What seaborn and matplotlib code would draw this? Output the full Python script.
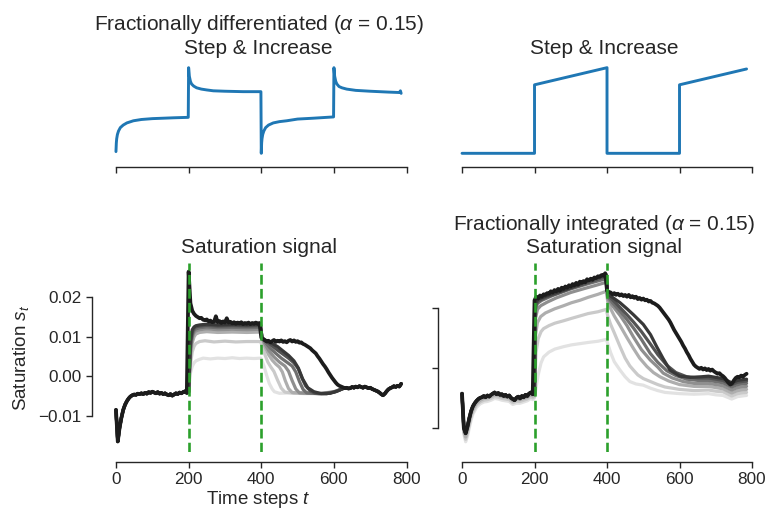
import numpy as np
import matplotlib
matplotlib.use("Agg")
import matplotlib.pyplot as plt
import seaborn as sns

# ------------------------------------------------------------------ data
TICKS_T = [0, 200, 400, 600, 800]
EVENT_T = [200, 400]
SAT_YTICKS = [-0.01, 0.00, 0.01, 0.02]
INT_YTICKS = [-0.01, 0.00, 0.01]

# Step & Increase input signal
STEP_T = [0, 200, 200, 400, 400, 600, 600, 785]
STEP_V = [0.0, 0.0, 0.8, 1.0, 0.0, 0.0, 0.8, 0.985]

# Fractionally differentiated input signal
FD_T = [0, 1, 2, 4, 7, 12, 20, 30, 48, 70, 100, 130, 160, 199,
        200, 202, 205, 208, 214, 222, 235, 250, 268, 300, 350, 399,
        400, 401, 402, 404, 407, 412, 420, 433, 450, 470, 500, 543, 599,
        600, 602, 605, 608, 614, 622, 635, 660, 700, 750, 780, 783, 785]
FD_V = [0.02, 0.12, 0.17, 0.22, 0.26, 0.30, 0.33, 0.355, 0.38, 0.395, 0.405, 0.41, 0.415, 0.42,
        1.00, 0.90, 0.84, 0.81, 0.785, 0.765, 0.75, 0.74, 0.73, 0.725, 0.72, 0.72,
        0.00, 0.12, 0.17, 0.22, 0.26, 0.30, 0.33, 0.355, 0.37, 0.38, 0.40, 0.41, 0.425,
        1.00, 0.90, 0.84, 0.81, 0.78, 0.765, 0.75, 0.735, 0.725, 0.715, 0.71, 0.73, 0.70]

# Saturation signal, last (black) layer, one value every 5 time steps
SAT_BLACK = [
    -0.0085, -0.0165, -0.0130, -0.0105, -0.0085, -0.0072, -0.0063, -0.0056, -0.0051, -0.0048,
    -0.0046, -0.0047, -0.0044, -0.0045, -0.0043, -0.0045, -0.0042, -0.0044, -0.0040, -0.0042,
    -0.0039, -0.0041, -0.0043, -0.0040, -0.0044, -0.0042, -0.0045, -0.0043, -0.0046, -0.0048,
    -0.0045, -0.0049, -0.0046, -0.0043, -0.0045, -0.0041, -0.0043, -0.0040, -0.0038, -0.0042,
    0.0265, 0.0185, 0.0166, 0.0158, 0.0153, 0.0150, 0.0147, 0.0148, 0.0143, 0.0142,
    0.0144, 0.0139, 0.0141, 0.0137, 0.0138, 0.0152, 0.0137, 0.0140, 0.0135, 0.0139,
    0.0136, 0.0147, 0.0136, 0.0138, 0.0134, 0.0137, 0.0133, 0.0136, 0.0134, 0.0137,
    0.0132, 0.0135, 0.0133, 0.0136, 0.0132, 0.0135, 0.0133, 0.0136, 0.0133, 0.0135,
    0.0098, 0.0094, 0.0091, 0.0088, 0.0090, 0.0086, 0.0089, 0.0092, 0.0087, 0.0090,
    0.0088, 0.0091, 0.0087, 0.0089, 0.0086, 0.0090, 0.0092, 0.0088, 0.0091, 0.0087,
    0.0089, 0.0085, 0.0086, 0.0082, 0.0080, 0.0077, 0.0074, 0.0071, 0.0066, 0.0062,
    0.0058, 0.0051, 0.0045, 0.0038, 0.0031, 0.0025, 0.0018, 0.0010, 0.0003, -0.0004,
    -0.0010, -0.0016, -0.0021, -0.0024, -0.0026, -0.0028, -0.0030, -0.0029, -0.0031, -0.0030,
    -0.0027, -0.0029, -0.0026, -0.0028, -0.0025, -0.0027, -0.0029, -0.0026, -0.0028, -0.0030,
    -0.0029, -0.0032, -0.0034, -0.0036, -0.0038, -0.0041, -0.0045, -0.0048, -0.0044, -0.0038,
    -0.0033, -0.0030, -0.0028, -0.0025, -0.0027, -0.0024, -0.0026, -0.0019]

# Saturation signal, earlier (grey) layers, light -> dark, between t=200 and t=625
SAT_GREYS = [
    [(200, -0.0040), (205, 0.0008), (210, 0.0025), (215, 0.0034), (220, 0.0039), (230, 0.0043),
     (240, 0.0046), (260, 0.0044), (280, 0.0046), (300, 0.0045), (320, 0.0047), (340, 0.0045),
     (360, 0.0046), (380, 0.0045), (398, 0.0046), (402, 0.0040), (408, 0.0024), (415, 0.0002),
     (422, -0.0018), (430, -0.0032), (436, -0.0039), (450, -0.0043), (480, -0.0042),
     (520, -0.0044), (560, -0.0043), (600, -0.0039), (625, -0.0031)],
    [(200, -0.0040), (205, 0.0030), (210, 0.0062), (215, 0.0076), (220, 0.0083), (230, 0.0088),
     (245, 0.0090), (270, 0.0087), (300, 0.0089), (330, 0.0087), (360, 0.0088), (398, 0.0088),
     (402, 0.0078), (410, 0.0055), (418, 0.0036), (426, 0.0024), (435, 0.0012), (445, -0.0010),
     (455, -0.0030), (465, -0.0040), (490, -0.0043), (530, -0.0042), (570, -0.0044),
     (600, -0.0039), (625, -0.0031)],
    [(200, -0.0040), (205, 0.0045), (210, 0.0085), (215, 0.0100), (220, 0.0107), (230, 0.0111),
     (250, 0.0113), (280, 0.0111), (320, 0.0112), (360, 0.0111), (398, 0.0112), (402, 0.0098),
     (410, 0.0075), (420, 0.0055), (430, 0.0041), (440, 0.0031), (450, 0.0023), (458, 0.0011),
     (466, -0.0011), (475, -0.0031), (485, -0.0041), (520, -0.0043), (560, -0.0044),
     (600, -0.0039), (625, -0.0031)],
    [(200, -0.0040), (205, 0.0060), (210, 0.0098), (215, 0.0110), (220, 0.0115), (230, 0.0118),
     (250, 0.0120), (280, 0.0118), (320, 0.0119), (360, 0.0118), (398, 0.0119), (402, 0.0100),
     (410, 0.0082), (420, 0.0066), (435, 0.0049), (450, 0.0036), (465, 0.0026), (475, 0.0013),
     (485, -0.0011), (495, -0.0032), (505, -0.0042), (540, -0.0043), (580, -0.0044),
     (605, -0.0038), (625, -0.0031)],
    [(200, -0.0040), (205, 0.0070), (210, 0.0105), (215, 0.0116), (220, 0.0120), (230, 0.0123),
     (250, 0.0125), (280, 0.0123), (320, 0.0124), (360, 0.0123), (398, 0.0124), (402, 0.0100),
     (412, 0.0085), (425, 0.0071), (440, 0.0058), (455, 0.0046), (470, 0.0036), (485, 0.0026),
     (495, 0.0011), (505, -0.0013), (515, -0.0033), (525, -0.0042), (560, -0.0044),
     (600, -0.0040), (625, -0.0031)],
    [(200, -0.0040), (205, 0.0080), (210, 0.0112), (215, 0.0121), (220, 0.0125), (230, 0.0127),
     (250, 0.0129), (280, 0.0127), (320, 0.0128), (360, 0.0127), (398, 0.0128), (402, 0.0098),
     (415, 0.0088), (430, 0.0077), (445, 0.0066), (460, 0.0056), (475, 0.0046), (490, 0.0034),
     (502, 0.0019), (512, -0.0004), (522, -0.0024), (535, -0.0037), (548, -0.0043),
     (580, -0.0044), (605, -0.0039), (625, -0.0031)],
    [(200, -0.0040), (205, 0.0090), (210, 0.0118), (215, 0.0125), (220, 0.0128), (230, 0.0130),
     (250, 0.0132), (280, 0.0130), (320, 0.0131), (360, 0.0130), (398, 0.0131), (402, 0.0096),
     (415, 0.0090), (430, 0.0083), (445, 0.0075), (460, 0.0064), (475, 0.0053), (490, 0.0039),
     (502, 0.0021), (514, -0.0007), (528, -0.0029), (545, -0.0039), (565, -0.0044),
     (590, -0.0043), (610, -0.0037), (625, -0.0031)],
]

# Fractionally integrated saturation signal, black layer, every 5 time steps
INT_BLACK = [
    -0.0043, -0.0100, -0.0109, -0.0098, -0.0084, -0.0072, -0.0064, -0.0059, -0.0055, -0.0052,
    -0.0050, -0.0049, -0.0047, -0.0049, -0.0046, -0.0048, -0.0045, -0.0043, -0.0041, -0.0044,
    -0.0042, -0.0045, -0.0044, -0.0047, -0.0045, -0.0048, -0.0046, -0.0050, -0.0052, -0.0054,
    -0.0050, -0.0048, -0.0051, -0.0047, -0.0049, -0.0045, -0.0047, -0.0043, -0.0041, -0.0044,
    0.0112, 0.0118, 0.0115, 0.0120, 0.0118, 0.0122, 0.0121, 0.0124, 0.0123, 0.0127,
    0.0125, 0.0129, 0.0127, 0.0131, 0.0128, 0.0133, 0.0131, 0.0135, 0.0133, 0.0137,
    0.0135, 0.0139, 0.0137, 0.0141, 0.0138, 0.0143, 0.0141, 0.0144, 0.0142, 0.0147,
    0.0145, 0.0148, 0.0146, 0.0150, 0.0149, 0.0152, 0.0151, 0.0154, 0.0153, 0.0157,
    0.0128, 0.0126, 0.0125, 0.0122, 0.0124, 0.0121, 0.0123, 0.0120, 0.0122, 0.0119,
    0.0121, 0.0118, 0.0121, 0.0117, 0.0119, 0.0116, 0.0118, 0.0114, 0.0116, 0.0113,
    0.0115, 0.0112, 0.0113, 0.0110, 0.0111, 0.0108, 0.0107, 0.0105, 0.0103, 0.0100,
    0.0096, 0.0092, 0.0088, 0.0084, 0.0080, 0.0075, 0.0069, 0.0063, 0.0058, 0.0053,
    0.0048, 0.0043, 0.0037, 0.0032, 0.0026, 0.0021, 0.0015, 0.0010, 0.0005, 0.0002,
    0.0000, -0.0002, 0.0000, -0.0003, -0.0001, -0.0004, -0.0002, -0.0005, -0.0003, -0.0006,
    -0.0008, -0.0010, -0.0009, -0.0012, -0.0014, -0.0017, -0.0021, -0.0025, -0.0028, -0.0026,
    -0.0021, -0.0017, -0.0015, -0.0016, -0.0013, -0.0015, -0.0012, -0.0010]

# lighter layers lie slightly below the black one before t=200 (three lightest)
INT_GREYS_PRE = [
    [(0, -0.0047), (5, -0.0110), (10, -0.0123), (15, -0.0114), (20, -0.0100), (25, -0.0087),
     (30, -0.0077), (40, -0.0066), (50, -0.0060), (60, -0.0057), (70, -0.0056), (80, -0.0054),
     (90, -0.0051), (100, -0.0052), (110, -0.0054), (120, -0.0055), (130, -0.0056),
     (140, -0.0061), (150, -0.0059), (160, -0.0059), (170, -0.0057), (180, -0.0055),
     (190, -0.0051), (195, -0.0053)],
    [(0, -0.0046), (5, -0.0107), (10, -0.0119), (15, -0.0109), (20, -0.0095), (25, -0.0082),
     (30, -0.0073), (40, -0.0062), (50, -0.0057), (60, -0.0054), (70, -0.0053), (80, -0.0051),
     (90, -0.0048), (100, -0.0049), (110, -0.0051), (120, -0.0052), (130, -0.0053),
     (140, -0.0058), (150, -0.0056), (160, -0.0056), (170, -0.0054), (180, -0.0052),
     (190, -0.0048), (195, -0.0050)],
    [(0, -0.0045), (5, -0.0104), (10, -0.0115), (15, -0.0104), (20, -0.0090), (25, -0.0077),
     (30, -0.0069), (40, -0.0059), (50, -0.0054), (60, -0.0051), (70, -0.0050), (80, -0.0048),
     (90, -0.0045), (100, -0.0046), (110, -0.0048), (120, -0.0049), (130, -0.0050),
     (140, -0.0055), (150, -0.0053), (160, -0.0053), (170, -0.0051), (180, -0.0049),
     (190, -0.0045), (195, -0.0047)],
]

INT_GREYS = [
    [(200, -0.0050), (205, -0.0030), (210, -0.0012), (218, 0.0008), (225, 0.0018), (240, 0.0026),
     (256, 0.0031), (280, 0.0035), (302, 0.0038), (325, 0.0040), (348, 0.0042), (375, 0.0044),
     (398, 0.0047), (402, 0.0040), (410, 0.0025), (420, 0.0010), (436, -0.0004), (450, -0.0015),
     (463, -0.0023), (480, -0.0027), (500, -0.0029), (520, -0.0034), (540, -0.0038),
     (560, -0.0041), (600, -0.0043), (640, -0.0044), (680, -0.0043), (700, -0.0045),
     (720, -0.0046), (744, -0.0052), (760, -0.0048), (785, -0.0046)],
    [(200, -0.0048), (204, 0.0025), (210, 0.0048), (218, 0.0060), (225, 0.0065), (240, 0.0070),
     (256, 0.0074), (280, 0.0078), (302, 0.0082), (325, 0.0086), (348, 0.0090), (375, 0.0093),
     (398, 0.0097), (402, 0.0086), (410, 0.0072), (420, 0.0058), (436, 0.0035), (450, 0.0016),
     (463, 0.0003), (473, -0.0004), (485, -0.0012), (500, -0.0018), (520, -0.0023),
     (540, -0.0028), (560, -0.0032), (600, -0.0036), (640, -0.0038), (680, -0.0037),
     (700, -0.0039), (720, -0.0040), (744, -0.0047), (760, -0.0043), (785, -0.0041)],
    [(200, -0.0046), (203, 0.0055), (208, 0.0075), (217, 0.0085), (230, 0.0091), (256, 0.0098),
     (280, 0.0103), (302, 0.0108), (325, 0.0112), (348, 0.0117), (375, 0.0122), (398, 0.0127),
     (402, 0.0110), (410, 0.0098), (420, 0.0086), (436, 0.0070), (455, 0.0050), (473, 0.0032),
     (490, 0.0016), (510, 0.0002), (528, -0.0008), (546, -0.0015), (570, -0.0022),
     (600, -0.0028), (640, -0.0031), (680, -0.0031), (700, -0.0033), (720, -0.0035),
     (744, -0.0042), (760, -0.0038), (785, -0.0036)],
    [(200, -0.0044), (202, 0.0080), (208, 0.0097), (217, 0.0103), (235, 0.0109), (260, 0.0116),
     (300, 0.0125), (340, 0.0132), (370, 0.0137), (398, 0.0142), (402, 0.0115), (415, 0.0103),
     (436, 0.0087), (455, 0.0070), (473, 0.0051), (495, 0.0030), (519, 0.0013), (540, 0.0001),
     (555, -0.0009), (580, -0.0017), (610, -0.0023), (640, -0.0026), (680, -0.0026),
     (700, -0.0028), (720, -0.0030), (744, -0.0037), (760, -0.0033), (785, -0.0031)],
    [(200, -0.0044), (202, 0.0095), (208, 0.0107), (220, 0.0112), (250, 0.0120), (300, 0.0131),
     (350, 0.0140), (398, 0.0148), (402, 0.0118), (415, 0.0108), (436, 0.0094), (455, 0.0080),
     (473, 0.0066), (495, 0.0047), (519, 0.0024), (540, 0.0009), (565, -0.0005),
     (590, -0.0013), (620, -0.0019), (650, -0.0021), (680, -0.0021), (700, -0.0023),
     (720, -0.0025), (744, -0.0032), (760, -0.0028), (785, -0.0026)],
    [(200, -0.0044), (202, 0.0102), (210, 0.0111), (230, 0.0117), (260, 0.0123), (300, 0.0132),
     (350, 0.0142), (398, 0.0152), (402, 0.0120), (415, 0.0113), (436, 0.0100), (455, 0.0088),
     (473, 0.0076), (495, 0.0060), (519, 0.0040), (540, 0.0022), (565, 0.0004),
     (590, -0.0008), (620, -0.0015), (650, -0.0017), (680, -0.0017), (700, -0.0019),
     (720, -0.0021), (744, -0.0028), (760, -0.0024), (785, -0.0022)],
    [(200, -0.0044), (202, 0.0107), (210, 0.0114), (240, 0.0121), (270, 0.0127), (300, 0.0133),
     (350, 0.0145), (398, 0.0155), (402, 0.0122), (415, 0.0117), (436, 0.0108), (455, 0.0098),
     (473, 0.0088), (500, 0.0072), (520, 0.0055), (537, 0.0035), (555, 0.0015),
     (574, -0.0004), (601, -0.0014), (630, -0.0016), (660, -0.0015), (680, -0.0014),
     (700, -0.0016), (720, -0.0018), (744, -0.0025), (760, -0.0021), (785, -0.0019)],
]

# ------------------------------------------------------------------ style
GREY_COLORS = ['#e2e2e2', '#cacaca', '#aeaeae', '#8f8f8f', '#707070', '#535353', '#383838']
BLACK = '#1c1c1c'
BLUE = '#1f77b4'
GREEN = '#2ca02c'

sns.set_theme(style="ticks")
plt.rcParams['font.family'] = ['Liberation Sans', 'DejaVu Sans']
plt.rcParams['mathtext.fontset'] = 'custom'
plt.rcParams['mathtext.rm'] = 'Liberation Sans'
plt.rcParams['mathtext.it'] = 'Liberation Sans:italic'
plt.rcParams['mathtext.bf'] = 'Liberation Sans:bold'
TEXT = '#262626'

W, H = 767, 509
fig = plt.figure(figsize=(W / 100, H / 100), dpi=100)

def rect(l, r, t, b):
    return [l / W, 1 - b / H, (r - l) / W, (b - t) / H]

ax_fd = fig.add_axes(rect(101.7, 415.4, 63.4, 157.6))
ax_st = fig.add_axes(rect(447.8, 760.8, 63.4, 157.6))
ax_sat = fig.add_axes(rect(101.7, 415.4, 263.0, 452.0))
ax_int = fig.add_axes(rect(447.8, 760.8, 263.0, 452.0))

LW_IN = 2.1
LW_SAT = 2.3


def line(ax, t, v, color, lw):
    sns.lineplot(x=list(t), y=list(v), ax=ax, color=color, linewidth=lw,
                 estimator=None, sort=False, legend=False)


# top row: inputs
line(ax_fd, FD_T, FD_V, BLUE, LW_IN)
line(ax_st, STEP_T, STEP_V, BLUE, LW_IN)

# bottom-left: saturation
t_sat = np.arange(len(SAT_BLACK)) * 5
n_pre = int(np.sum(t_sat < 200))
n_tail = int(np.argmax(t_sat >= 630))
for kp, c in zip(SAT_GREYS, GREY_COLORS):
    kt, kv = zip(*kp)
    tt = list(t_sat[:n_pre]) + list(kt) + list(t_sat[n_tail:])
    vv = list(SAT_BLACK[:n_pre]) + list(kv) + list(SAT_BLACK[n_tail:])
    line(ax_sat, tt, vv, c, LW_SAT)
line(ax_sat, t_sat, SAT_BLACK, BLACK, LW_SAT + 0.4)

# bottom-right: fractionally integrated saturation
t_int = np.arange(len(INT_BLACK)) * 5
n_pre_i = int(np.sum(t_int < 200))
for i, (kp, c) in enumerate(zip(INT_GREYS, GREY_COLORS)):
    kt, kv = zip(*kp)
    if i < len(INT_GREYS_PRE):
        pt, pv = zip(*INT_GREYS_PRE[i])
        pt, pv = list(pt), list(pv)
    else:
        pt, pv = list(t_int[:n_pre_i]), list(INT_BLACK[:n_pre_i])
    line(ax_int, pt + list(kt), pv + list(kv), c, LW_SAT)
line(ax_int, t_int, INT_BLACK, BLACK, LW_SAT + 0.4)

for ax in (ax_sat, ax_int):
    for te in EVENT_T:
        ax.axvline(te, color=GREEN, lw=1.9, ls='--', zorder=5)

# axes limits & ticks
for ax in (ax_fd, ax_st, ax_sat, ax_int):
    ax.set_xlim(-39.25, 824.25)
    ax.set_xticks(TICKS_T)
    ax.tick_params(axis='both', length=4.5, width=1.0, color=TEXT, labelcolor=TEXT,
                   labelsize=12.3, pad=3)
    ax.set_xlabel('')
    ax.set_ylabel('')
for ax in (ax_fd, ax_st):
    ax.set_ylim(-0.05, 1.05)
    ax.set_yticks([])
    ax.set_xticklabels([])
ax_sat.set_ylim(-0.01916, 0.02868)
ax_sat.set_yticks(SAT_YTICKS)
ax_int.set_ylim(-0.0140, 0.0174)
ax_int.set_yticks(INT_YTICKS)
ax_int.set_yticklabels([])

for ax in (ax_fd, ax_st):
    sns.despine(ax=ax, left=True, offset=7, trim=True)
for ax in (ax_sat, ax_int):
    sns.despine(ax=ax, offset=7, trim=True)
for ax in (ax_fd, ax_st, ax_sat, ax_int):
    for sp in ax.spines.values():
        sp.set_linewidth(1.0)
        sp.set_color(TEXT)

TS = 15
ax_fd.set_title('Fractionally differentiated ($\\alpha$ = 0.15)\nStep & Increase',
                fontsize=TS, color=TEXT, pad=7, linespacing=1.15)
ax_st.set_title('Step & Increase', fontsize=TS, color=TEXT, pad=7)
ax_sat.set_title('Saturation signal', fontsize=TS, color=TEXT, pad=7)
ax_int.set_title('Fractionally integrated ($\\alpha$ = 0.15)\nSaturation signal',
                 fontsize=TS, color=TEXT, pad=7, linespacing=1.15)

ax_sat.set_ylabel('Saturation $s_t$', fontsize=13.5, color=TEXT, labelpad=5)
ax_sat.set_xlabel('Time steps $t$', fontsize=13.5, color=TEXT, labelpad=1)

fig.savefig('out.png', dpi=100)
